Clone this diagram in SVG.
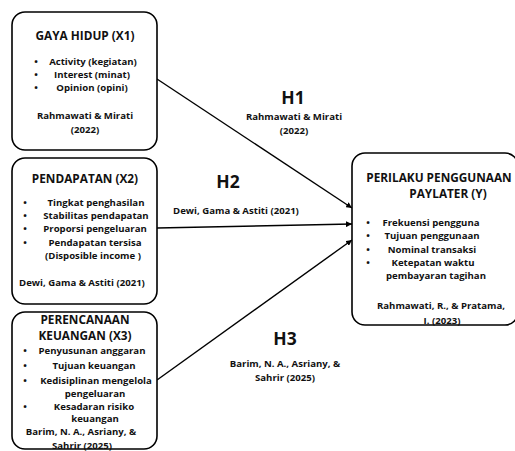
<svg xmlns="http://www.w3.org/2000/svg" width="515" height="451" viewBox="0 0 515 451">
<defs>
<marker id="arr" viewBox="0 0 10 10" refX="10" refY="5" markerWidth="6" markerHeight="6" markerUnits="userSpaceOnUse" orient="auto">
<path d="M0,0 L10,5 L0,10 z" fill="#000"/>
</marker>
<style>
.box{fill:#fff;stroke:#000;stroke-width:1.6}
text{font-family:"Open Sans","Liberation Sans",sans-serif;font-weight:bold;fill:#111;text-anchor:middle}
.t{font-size:11.8px}
.b{font-size:9.6px}
.h{font-size:17.5px}
.c{stroke:#000;stroke-width:1.4;fill:none;marker-end:url(#arr)}
</style>
</defs>
<rect width="515" height="451" fill="#fff"/>
<g id="connectors">
<line class="c" x1="157" y1="79" x2="352" y2="208"/>
<line class="c" x1="157" y1="228" x2="352" y2="224"/>
<line class="c" x1="157" y1="380" x2="352" y2="240"/>
</g>
<g id="labels">
<text class="h" x="293" y="104">H1</text>
<text class="b" x="294" y="120">Rahmawati &amp; Mirati</text>
<text class="b" x="294" y="134">(2022)</text>
<text class="h" x="228" y="188">H2</text>
<text class="b" x="236" y="214">Dewi, Gama &amp; Astiti (2021)</text>
<text class="h" x="285" y="345">H3</text>
<text class="b" x="285" y="367">Barim, N. A., Asriany, &amp;</text>
<text class="b" x="285" y="381">Sahrir (2025)</text>
</g>
<g id="x1">
<rect class="box" x="12" y="12" width="145" height="138" rx="13"/>
<text class="t" x="85" y="40">GAYA HIDUP (X1)</text>
<text class="b" x="36" y="65">•</text><text class="b" x="93" y="65">Activity (kegiatan)</text>
<text class="b" x="36" y="78">•</text><text class="b" x="92" y="78">Interest (minat)</text>
<text class="b" x="36" y="91">•</text><text class="b" x="92" y="91">Opinion (opini)</text>
<text class="b" x="85" y="119">Rahmawati &amp; Mirati</text>
<text class="b" x="85" y="133">(2022)</text>
</g>
<g id="x2">
<rect class="box" x="12" y="158" width="145" height="146" rx="13"/>
<text class="t" x="85" y="183">PENDAPATAN (X2)</text>
<text class="b" x="25" y="206">•</text><text class="b" x="96" y="206">Tingkat penghasilan</text>
<text class="b" x="25" y="219">•</text><text class="b" x="96" y="219">Stabilitas pendapatan</text>
<text class="b" x="25" y="232">•</text><text class="b" x="95" y="232">Proporsi pengeluaran</text>
<text class="b" x="25" y="246">•</text><text class="b" x="95" y="246">Pendapatan tersisa</text>
<text class="b" x="93" y="259">(Disposible income )</text>
<text class="b" x="82" y="286">Dewi, Gama &amp; Astiti (2021)</text>
</g>
<g id="x3">
<rect class="box" x="12" y="312" width="145" height="137" rx="13"/>
<text class="t" x="85" y="324">PERENCANAAN</text>
<text class="t" x="85" y="340">KEUANGAN (X3)</text>
<text class="b" x="25" y="354">•</text><text class="b" x="92" y="354">Penyusunan anggaran</text>
<text class="b" x="25" y="369">•</text><text class="b" x="94" y="369">Tujuan keuangan</text>
<text class="b" x="25" y="384">•</text><text class="b" x="96" y="384">Kedisiplinan mengelola</text>
<text class="b" x="95" y="397">pengeluaran</text>
<text class="b" x="25" y="410">•</text><text class="b" x="94" y="410">Kesadaran risiko</text>
<text class="b" x="95" y="422">keuangan</text>
<text class="b" x="81" y="435">Barim, N. A., Asriany, &amp;</text>
<text class="b" x="82" y="449">Sahrir (2025)</text>
</g>
<g id="y">
<rect class="box" x="352" y="153" width="166" height="172" rx="13"/>
<text class="t" x="439" y="182">PERILAKU PENGGUNAAN</text>
<text class="t" x="448" y="198">PAYLATER (Y)</text>
<text class="b" x="368" y="226">•</text><text class="b" x="431" y="226">Frekuensi pengguna</text>
<text class="b" x="368" y="239">•</text><text class="b" x="432" y="239">Tujuan penggunaan</text>
<text class="b" x="368" y="253">•</text><text class="b" x="432" y="253">Nominal transaksi</text>
<text class="b" x="368" y="266">•</text><text class="b" x="433" y="266">Ketepatan waktu</text>
<text class="b" x="436" y="279">pembayaran tagihan</text>
<text class="b" x="441" y="309">Rahmawati, R., &amp; Pratama,</text>
<text class="b" x="442" y="324">I. (2023)</text>
</g>
</svg>
